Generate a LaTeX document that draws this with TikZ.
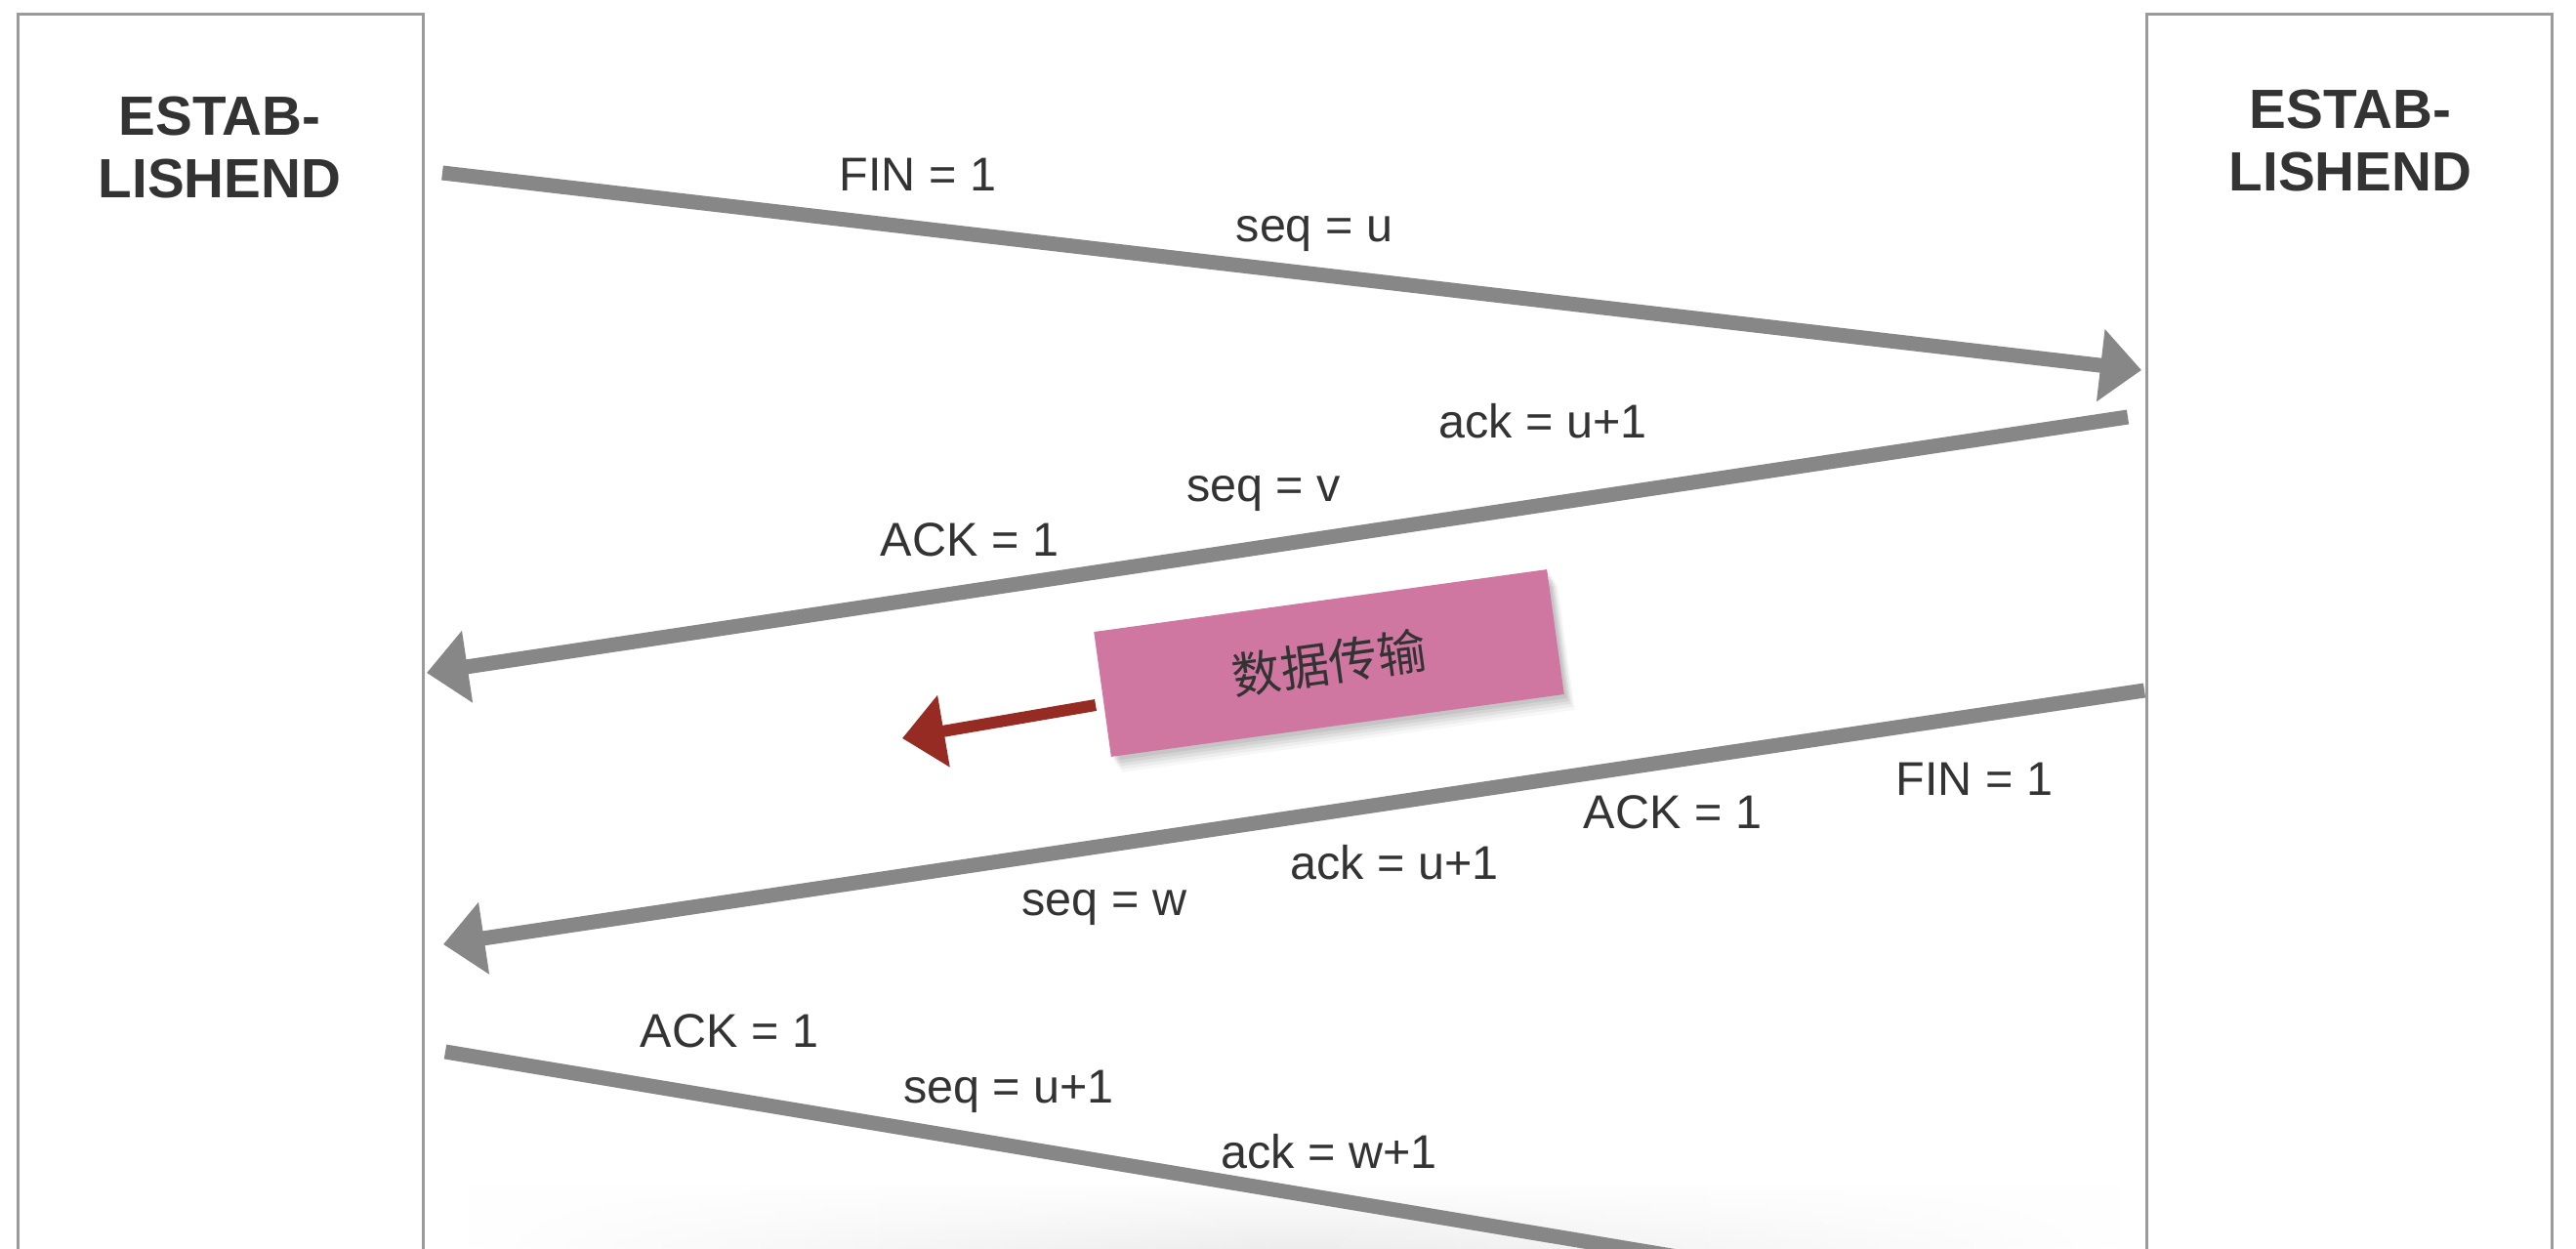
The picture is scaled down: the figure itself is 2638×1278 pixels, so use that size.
\documentclass[tikz,border=0pt]{standalone}
\usepackage{fontspec}
\setmainfont{Liberation Sans}
\newfontfamily\cjk{Noto Sans CJK SC}
\usetikzlibrary{arrows.meta,shadows,fadings}
\definecolor{linegray}{HTML}{878787}
\definecolor{boxgray}{HTML}{9A9A9A}
\definecolor{txt}{HTML}{333333}
\definecolor{pinkbox}{HTML}{D077A1}
\definecolor{darkred}{HTML}{962B24}
\tikzfading[name=fadesides, left color=transparent!100, right color=transparent!100, middle color=transparent!0]
\begin{document}
\begin{tikzpicture}[x=0.01cm,y=-0.01cm,
  lifebox/.style={draw=boxgray, line width=0.03cm, minimum width=4.14cm, minimum height=13.2cm, anchor=north, inner sep=0pt},
  msg/.style={draw=linegray, line width=0.15cm, -{Triangle[length=0.42cm,width=0.72cm]}},
  lab/.style={text=txt, font=\fontsize{13.8pt}{16pt}\selectfont, inner sep=0pt, text height=0.35cm, text depth=0pt},
  statelab/.style={text=txt, font=\bfseries\fontsize{16.1pt}{18.2pt}\selectfont, align=center, inner sep=0pt},
  softshadow/.style={
    general shadow={shadow xshift=0.03cm, shadow yshift=-0.04cm, fill=black, opacity=0.06},
    general shadow={shadow xshift=0.05cm, shadow yshift=-0.07cm, fill=black, opacity=0.06},
    general shadow={shadow xshift=0.07cm, shadow yshift=-0.10cm, fill=black, opacity=0.05},
    general shadow={shadow xshift=0.09cm, shadow yshift=-0.13cm, fill=black, opacity=0.04},
    general shadow={shadow xshift=0.11cm, shadow yshift=-0.16cm, fill=black, opacity=0.03}},
  databox/.style={fill=pinkbox, rotate=7.85, minimum width=4.68cm, minimum height=1.29cm, inner sep=0pt,
    text=txt, font=\cjk\fontsize{14.2pt}{16pt}\selectfont, softshadow},
  datamsg/.style={draw=darkred, line width=0.12cm, -{Triangle[length=0.43cm,width=0.72cm]}}
]
\clip (0,0) rectangle (2638,1278);
\fill[white] (0,0) rectangle (2638,1278);
\shade[top color=white, bottom color=black!7, path fading=fadesides] (480,1210) rectangle (2170,1278);

% lifelines
\node[lifebox] (lbox) at (226,13) {};
\node[lifebox] (rbox) at (2406,13) {};
\node[statelab] (lstate) at (225,151) {ESTAB-\\LISHEND};
\node[statelab] (rstate) at (2407,144) {ESTAB-\\LISHEND};

% messages
\coordinate (m1s) at (453,177);
\coordinate (m1e) at (2193,379);
\coordinate (m2s) at (2179,427);
\coordinate (m2e) at (437,689);
\coordinate (m3s) at (2196,707);
\coordinate (m3e) at (454,967);
\coordinate (m4s) at (456,1077);
\coordinate (m4e) at (1760,1294);
\draw[msg] (m1s) -- (m1e);
\draw[msg] (m2s) -- (m2e);
\draw[msg] (m3s) -- (m3e);
\draw[draw=linegray, line width=0.15cm] (m4s) -- (m4e);

% data transfer
\coordinate (ds) at (1122,722);
\coordinate (de) at (924,756);
\draw[datamsg] (ds) -- (de);
\node[databox] (data) at (1361,679) {数据传输};

% labels
\node[lab] (l1a) at (940,178) {FIN = 1};
\node[lab] (l1b) at (1346,230) {seq = u};
\node[lab] (l2a) at (1580,431) {ack = u+1};
\node[lab] (l2b) at (1294,496) {seq = v};
\node[lab] (l2c) at (993,552) {ACK = 1};
\node[lab] (l3a) at (2022,797) {FIN = 1};
\node[lab] (l3b) at (1713,831) {ACK = 1};
\node[lab] (l3c) at (1428,883) {ack = u+1};
\node[lab] (l3d) at (1131,920) {seq = w};
\node[lab] (l4a) at (747,1055) {ACK = 1};
\node[lab] (l4b) at (1033,1112) {seq = u+1};
\node[lab] (l4c) at (1361,1179) {ack = w+1};
\end{tikzpicture}
\end{document}
